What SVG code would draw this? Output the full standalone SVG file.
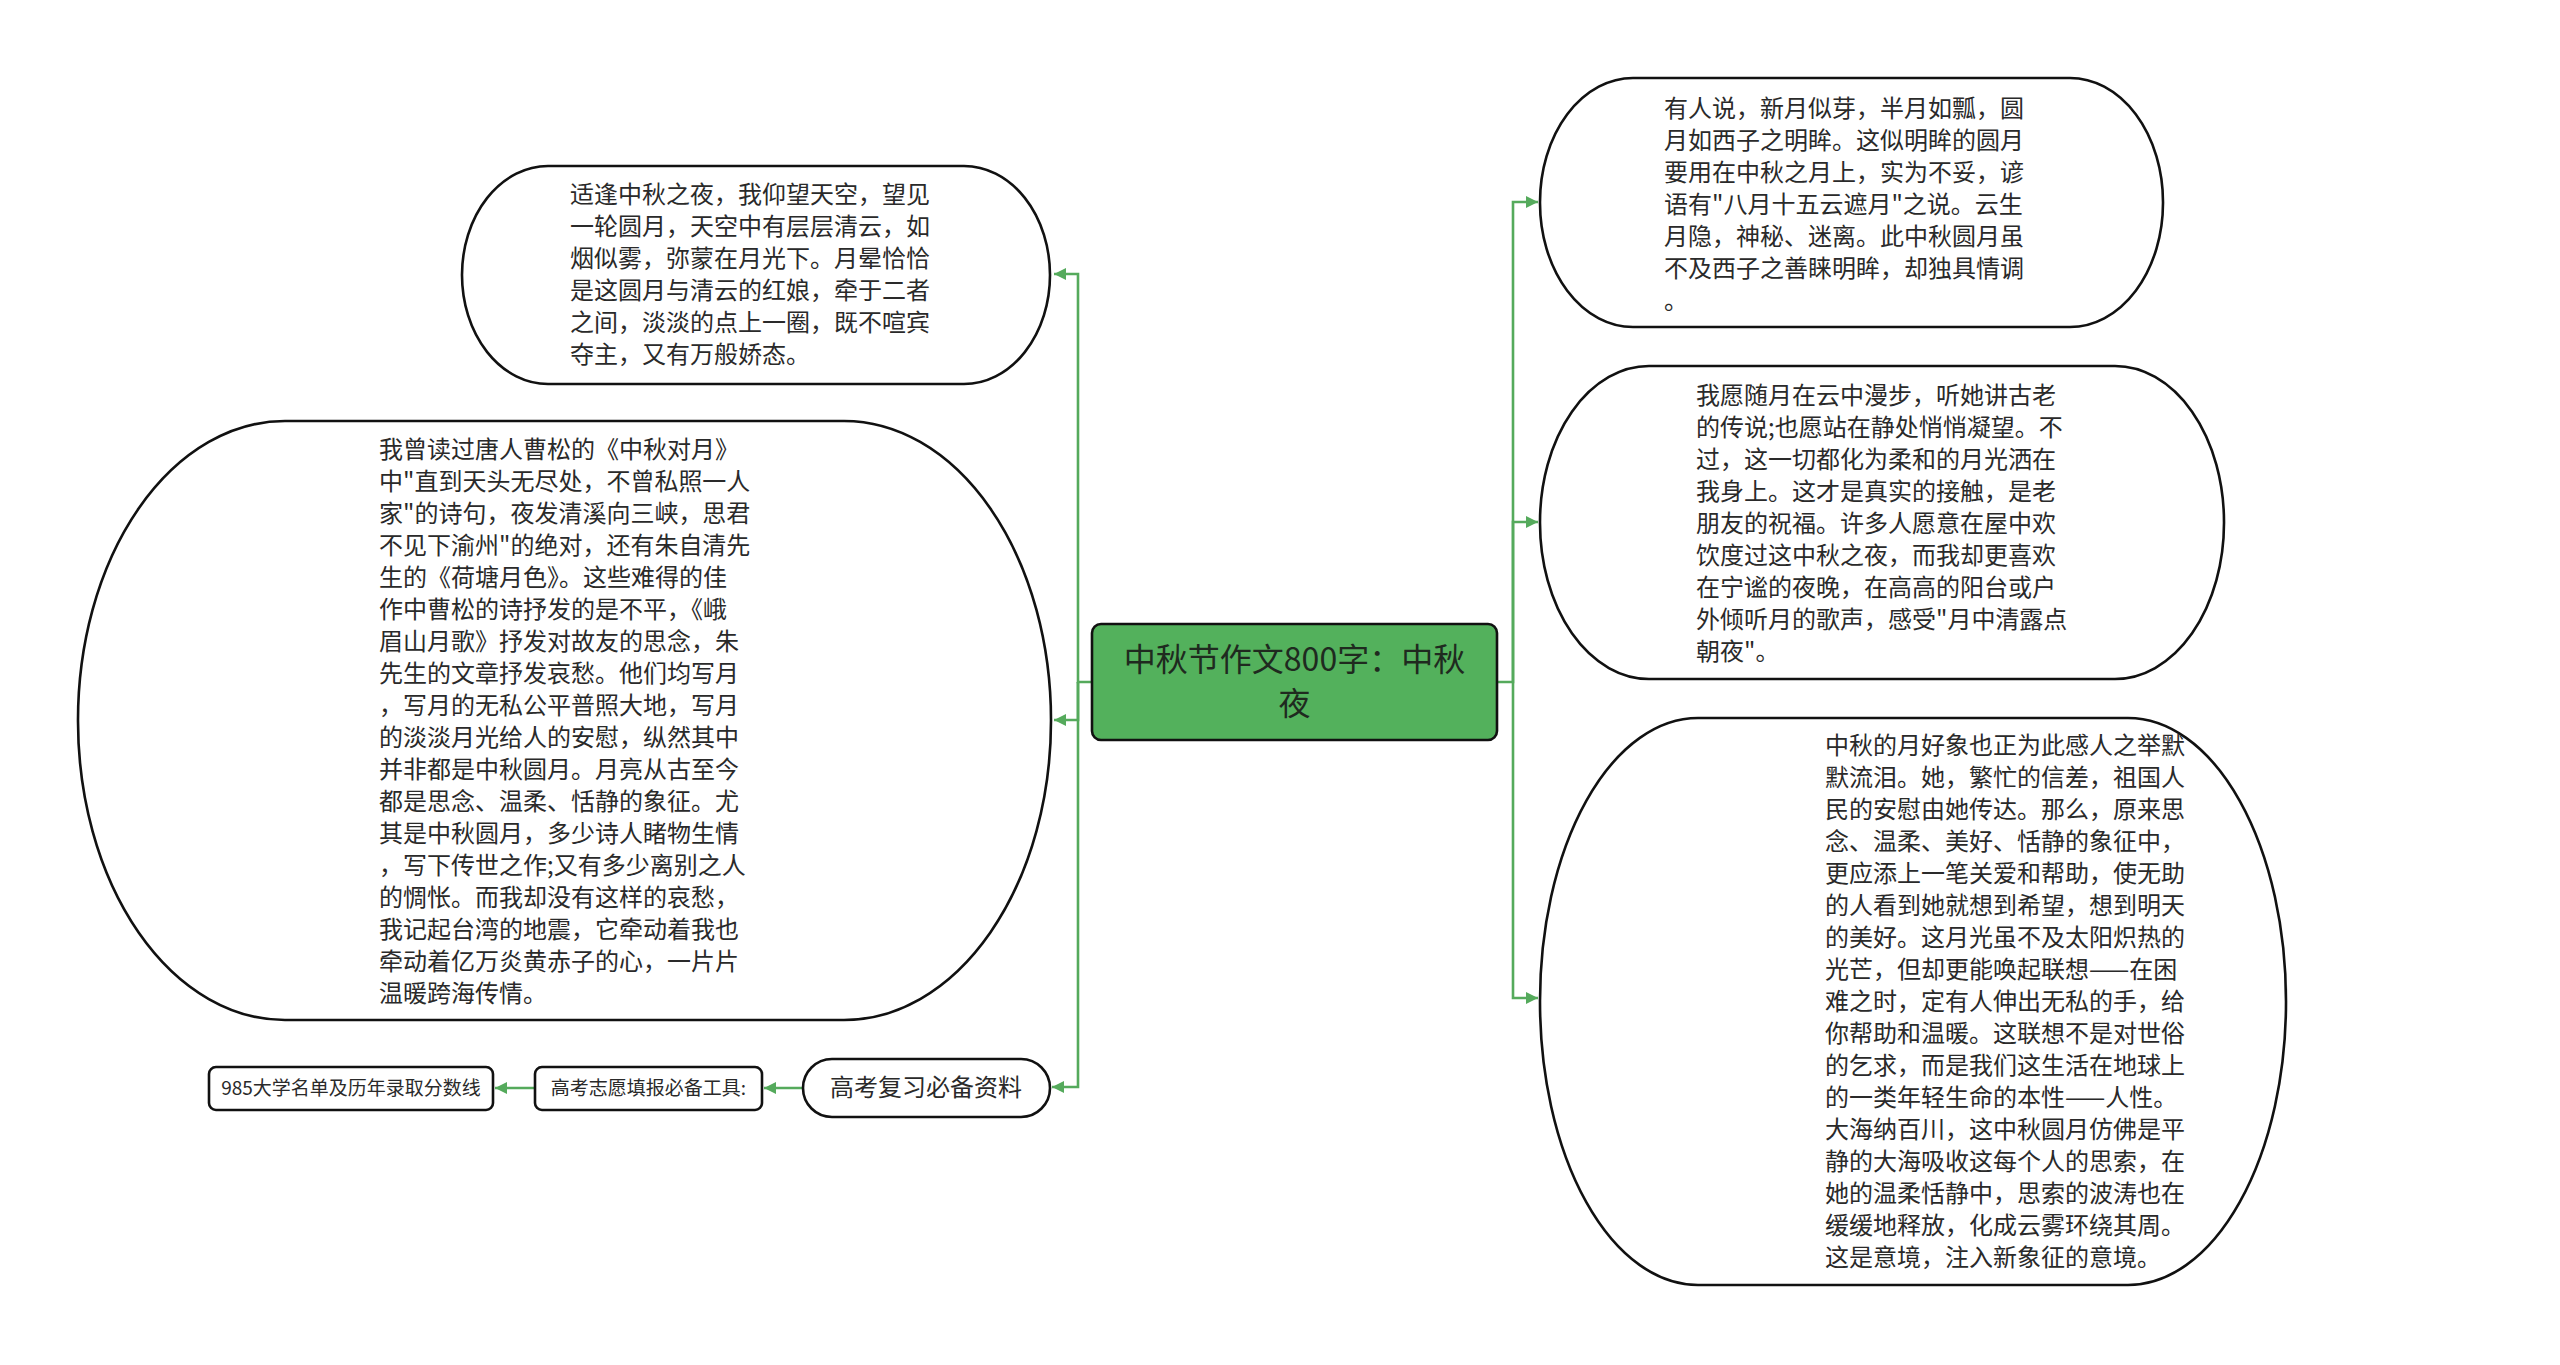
<svg xmlns="http://www.w3.org/2000/svg" width="2560" height="1365" viewBox="0 0 2560 1365">
<style>
.node{fill:#ffffff;stroke:#111111;stroke-width:2.6}
.t{font-family:"Noto Sans CJK SC","Microsoft YaHei",sans-serif;font-size:24px;fill:#2a2a2a}
.s{font-family:"Noto Sans CJK SC","Microsoft YaHei",sans-serif;font-size:19px;fill:#2a2a2a}
.c{stroke:#55aa5c;stroke-width:2.6;fill:none}
</style>
<defs>
<marker id="ah" markerUnits="userSpaceOnUse" markerWidth="14" markerHeight="14" refX="12" refY="7" orient="auto">
<path d="M0,1 L12,7 L0,13 Z" fill="#55aa5c"/>
</marker>
</defs>
<rect width="2560" height="1365" fill="#ffffff"/>
<g id="connectors">
<path class="c" d="M1092,682 H1078 V274 H1054" marker-end="url(#ah)"/>
<path class="c" d="M1078,682 V720 H1054" marker-end="url(#ah)"/>
<path class="c" d="M1078,682 V1087 H1052" marker-end="url(#ah)"/>
<path class="c" d="M1497,682 H1513 V202 H1538" marker-end="url(#ah)"/>
<path class="c" d="M1513,682 V522 H1538" marker-end="url(#ah)"/>
<path class="c" d="M1513,682 V998 H1538" marker-end="url(#ah)"/>
<path class="c" d="M803,1088 H764" marker-end="url(#ah)"/>
<path class="c" d="M535,1088 H495" marker-end="url(#ah)"/>
</g>
<g id="center">
<rect x="1092" y="624" width="405" height="116" rx="9" fill="#53b15c" stroke="#111111" stroke-width="2.6"/>
<text x="1294.5" y="671" text-anchor="middle" font-family="'Noto Sans CJK SC','Microsoft YaHei',sans-serif" font-size="32" fill="#1f2a1f">中秋节作文800字：中秋</text>
<text x="1294.5" y="715" text-anchor="middle" font-family="'Noto Sans CJK SC','Microsoft YaHei',sans-serif" font-size="32" fill="#1f2a1f">夜</text>
</g>
<g id="node-l1">
<rect class="node" x="462" y="166" width="588" height="218" rx="86" ry="109"/>
<text class="t" x="570" y="203">适逢中秋之夜，我仰望天空，望见</text>
<text class="t" x="570" y="235">一轮圆月，天空中有层层清云，如</text>
<text class="t" x="570" y="267">烟似雾，弥蒙在月光下。月晕恰恰</text>
<text class="t" x="570" y="299">是这圆月与清云的红娘，牵于二者</text>
<text class="t" x="570" y="331">之间，淡淡的点上一圈，既不喧宾</text>
<text class="t" x="570" y="363">夺主，又有万般娇态。</text>
</g>
<g id="node-l2">
<rect class="node" x="78" y="421" width="973" height="599" rx="207" ry="299"/>
<text class="t" x="379" y="458">我曾读过唐人曹松的《中秋对月》</text>
<text class="t" x="379" y="490">中"直到天头无尽处，不曾私照一人</text>
<text class="t" x="379" y="522">家"的诗句，夜发清溪向三峡，思君</text>
<text class="t" x="379" y="554">不见下渝州"的绝对，还有朱自清先</text>
<text class="t" x="379" y="586">生的《荷塘月色》。这些难得的佳</text>
<text class="t" x="379" y="618">作中曹松的诗抒发的是不平，《峨</text>
<text class="t" x="379" y="650">眉山月歌》抒发对故友的思念，朱</text>
<text class="t" x="379" y="682">先生的文章抒发哀愁。他们均写月</text>
<text class="t" x="379" y="714">，写月的无私公平普照大地，写月</text>
<text class="t" x="379" y="746">的淡淡月光给人的安慰，纵然其中</text>
<text class="t" x="379" y="778">并非都是中秋圆月。月亮从古至今</text>
<text class="t" x="379" y="810">都是思念、温柔、恬静的象征。尤</text>
<text class="t" x="379" y="842">其是中秋圆月，多少诗人睹物生情</text>
<text class="t" x="379" y="874">，写下传世之作;又有多少离别之人</text>
<text class="t" x="379" y="906">的惆怅。而我却没有这样的哀愁，</text>
<text class="t" x="379" y="938">我记起台湾的地震，它牵动着我也</text>
<text class="t" x="379" y="970">牵动着亿万炎黄赤子的心，一片片</text>
<text class="t" x="379" y="1002">温暖跨海传情。</text>
</g>
<g id="node-l3">
<rect class="node" x="803" y="1059" width="247" height="58" rx="29"/>
<text x="926" y="1096" text-anchor="middle" font-family="'Noto Sans CJK SC','Microsoft YaHei',sans-serif" font-size="24" fill="#2a2a2a">高考复习必备资料</text>
</g>
<g id="node-l3a">
<rect class="node" x="535" y="1067" width="227" height="43" rx="7" stroke-width="2"/>
<text class="s" x="648.5" y="1095" text-anchor="middle">高考志愿填报必备工具:</text>
</g>
<g id="node-l3b">
<rect class="node" x="209" y="1067" width="284" height="43" rx="7" stroke-width="2"/>
<text class="s" x="351" y="1095" text-anchor="middle">985大学名单及历年录取分数线</text>
</g>
<g id="node-r1">
<rect class="node" x="1540" y="78" width="623" height="249" rx="93" ry="124"/>
<text class="t" x="1664" y="117">有人说，新月似芽，半月如瓢，圆</text>
<text class="t" x="1664" y="149">月如西子之明眸。这似明眸的圆月</text>
<text class="t" x="1664" y="181">要用在中秋之月上，实为不妥，谚</text>
<text class="t" x="1664" y="213">语有"八月十五云遮月"之说。云生</text>
<text class="t" x="1664" y="245">月隐，神秘、迷离。此中秋圆月虽</text>
<text class="t" x="1664" y="277">不及西子之善睐明眸，却独具情调</text>
<text class="t" x="1664" y="309">。</text>
</g>
<g id="node-r2">
<rect class="node" x="1540" y="366" width="684" height="313" rx="109" ry="156"/>
<text class="t" x="1696" y="404">我愿随月在云中漫步，听她讲古老</text>
<text class="t" x="1696" y="436">的传说;也愿站在静处悄悄凝望。不</text>
<text class="t" x="1696" y="468">过，这一切都化为柔和的月光洒在</text>
<text class="t" x="1696" y="500">我身上。这才是真实的接触，是老</text>
<text class="t" x="1696" y="532">朋友的祝福。许多人愿意在屋中欢</text>
<text class="t" x="1696" y="564">饮度过这中秋之夜，而我却更喜欢</text>
<text class="t" x="1696" y="596">在宁谧的夜晚，在高高的阳台或户</text>
<text class="t" x="1696" y="628">外倾听月的歌声，感受"月中清露点</text>
<text class="t" x="1696" y="660">朝夜"。</text>
</g>
<g id="node-r3">
<rect class="node" x="1540" y="718" width="746" height="567" rx="158" ry="283"/>
<text class="t" x="1825" y="754">中秋的月好象也正为此感人之举默</text>
<text class="t" x="1825" y="786">默流泪。她，繁忙的信差，祖国人</text>
<text class="t" x="1825" y="818">民的安慰由她传达。那么，原来思</text>
<text class="t" x="1825" y="850">念、温柔、美好、恬静的象征中，</text>
<text class="t" x="1825" y="882">更应添上一笔关爱和帮助，使无助</text>
<text class="t" x="1825" y="914">的人看到她就想到希望，想到明天</text>
<text class="t" x="1825" y="946">的美好。这月光虽不及太阳炽热的</text>
<text class="t" x="1825" y="978">光芒，但却更能唤起联想——在困</text>
<text class="t" x="1825" y="1010">难之时，定有人伸出无私的手，给</text>
<text class="t" x="1825" y="1042">你帮助和温暖。这联想不是对世俗</text>
<text class="t" x="1825" y="1074">的乞求，而是我们这生活在地球上</text>
<text class="t" x="1825" y="1106">的一类年轻生命的本性——人性。</text>
<text class="t" x="1825" y="1138">大海纳百川，这中秋圆月仿佛是平</text>
<text class="t" x="1825" y="1170">静的大海吸收这每个人的思索，在</text>
<text class="t" x="1825" y="1202">她的温柔恬静中，思索的波涛也在</text>
<text class="t" x="1825" y="1234">缓缓地释放，化成云雾环绕其周。</text>
<text class="t" x="1825" y="1266">这是意境，注入新象征的意境。</text>
</g>
</svg>
